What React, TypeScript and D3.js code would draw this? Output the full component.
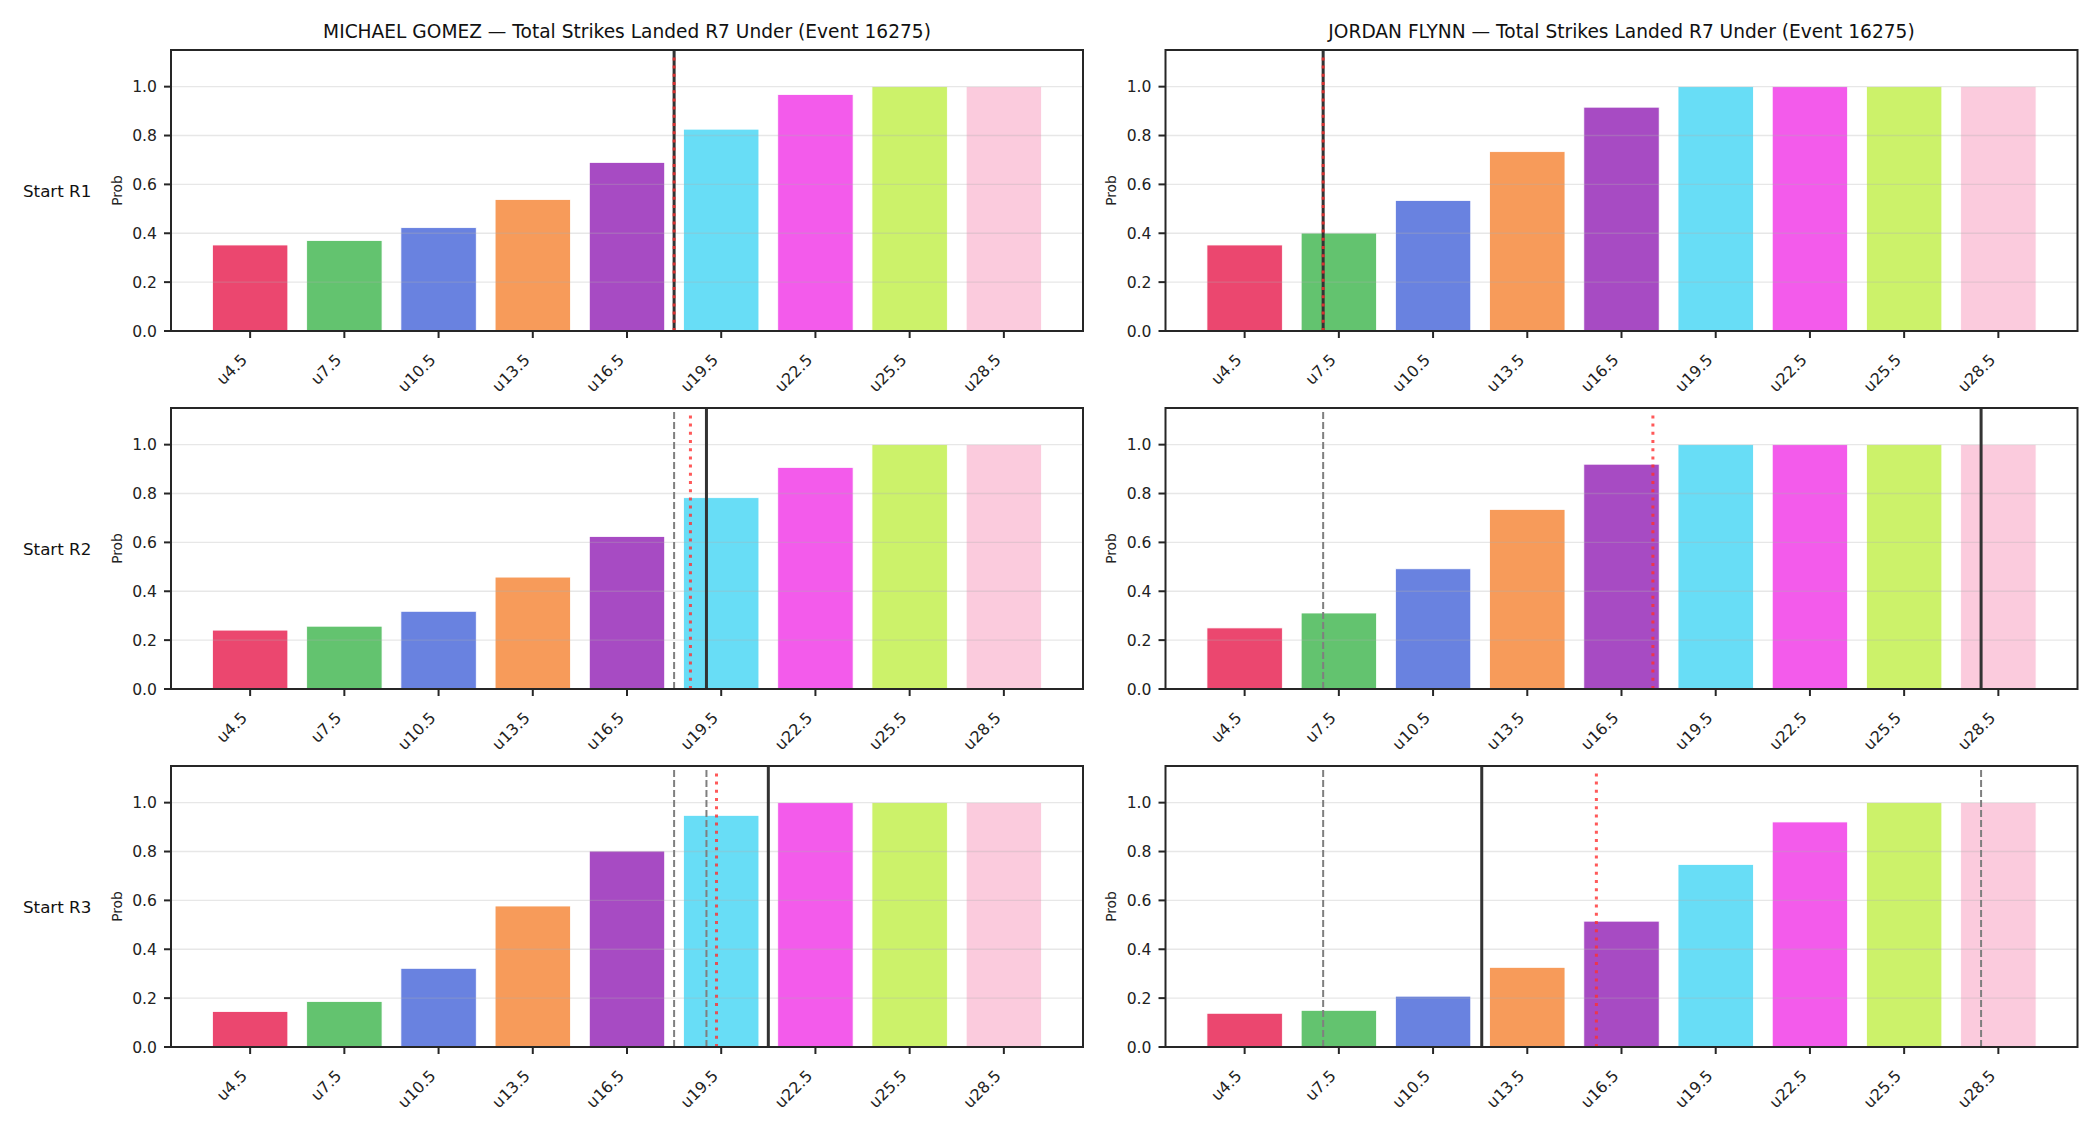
import React, { useEffect } from 'react';
import * as d3 from 'd3';

const lineLabels = ['u4.5', 'u7.5', 'u10.5', 'u13.5', 'u16.5', 'u19.5', 'u22.5', 'u25.5', 'u28.5'];
const lineValues = [4.5, 7.5, 10.5, 13.5, 16.5, 19.5, 22.5, 25.5, 28.5];
const barColors = ['#e6194B', '#3cb44b', '#4363d8', '#f58231', '#911eb4', '#42d4f4', '#f032e6', '#bfef45', '#fabed4'];

const fighters = ['MICHAEL GOMEZ', 'JORDAN FLYNN'];
const rowLabels = ['Start R1', 'Start R2', 'Start R3'];

// P(under) per line, one array per fighter/start round
const gomezR1 = [0.352, 0.370, 0.423, 0.538, 0.690, 0.826, 0.968, 1.0, 1.0];
const gomezR2 = [0.241, 0.257, 0.318, 0.458, 0.624, 0.783, 0.907, 1.0, 1.0];
const gomezR3 = [0.145, 0.186, 0.322, 0.577, 0.802, 0.948, 1.0, 1.0, 1.0];
const flynnR1 = [0.352, 0.401, 0.534, 0.734, 0.916, 1.0, 1.0, 1.0, 1.0];
const flynnR2 = [0.250, 0.311, 0.492, 0.735, 0.920, 1.0, 1.0, 1.0, 1.0];
const flynnR3 = [0.138, 0.150, 0.208, 0.326, 0.515, 0.747, 0.921, 1.0, 1.0];

// projected strikes (solid) and median (dotted) per start round
const gomezProj = [18.0, 19.03, 21.0];
const gomezMedian = [18.0, 18.52, 19.35];
const flynnProj = [7.0, 27.95, 12.05];
const flynnMedian = [7.0, 17.5, 15.7];

const probs = [
  [gomezR1, gomezR2, gomezR3],
  [flynnR1, flynnR2, flynnR3],
];
const projs = [gomezProj, flynnProj];
const medians = [gomezMedian, flynnMedian];

const yTicks = [0, 0.2, 0.4, 0.6, 0.8, 1.0];

const W = 2100;
const H = 1125;
const colLeft = [171, 1165.5];
const axW = 912;
const rowTop = [50, 408, 766];
const axH = 281;
const font = 'DejaVu Sans, sans-serif';

const Panel = ({ fi, ri }: { fi: number; ri: number }) => {
  const x0 = colLeft[fi];
  const y0 = rowTop[ri];
  const data = probs[fi][ri];
  const x = d3.scaleLinear().domain([-0.84, 8.84]).range([x0, x0 + axW]);
  const y = d3.scaleLinear().domain([0, 1.15]).range([y0 + axH, y0]);
  const toIdx = d3.scaleLinear().domain([lineValues[0], lineValues[8]]).range([0, 8]);
  const bw = x(0.8) - x(0);
  const prev = projs[fi].slice(0, ri);
  const bottom = y(0);

  return (
    <g>
      {data.map((v, i) => (
        <rect key={i} x={x(i) - bw / 2} y={y(v)} width={bw} height={bottom - y(v)}
          fill={barColors[i]} fillOpacity={0.8} stroke="#fff" strokeWidth={0.8} />
      ))}
      {yTicks.slice(1).map(t => (
        <line key={t} x1={x0} x2={x0 + axW} y1={y(t)} y2={y(t)} stroke="#b0b0b0" strokeOpacity={0.3} strokeWidth={1.4} />
      ))}
      {prev.map((p, k) => (
        <line key={k} x1={x(toIdx(p))} x2={x(toIdx(p))} y1={bottom} y2={y0}
          stroke="#7f7f7f" strokeWidth={2} strokeDasharray="7,3" />
      ))}
      <line x1={x(toIdx(projs[fi][ri]))} x2={x(toIdx(projs[fi][ri]))} y1={bottom} y2={y0}
        stroke="#333" strokeWidth={3} />
      <line x1={x(toIdx(medians[fi][ri]))} x2={x(toIdx(medians[fi][ri]))} y1={bottom} y2={y(1.13)}
        stroke="#ff3030" strokeOpacity={0.8} strokeWidth={3} strokeDasharray="3,5.2" />
      <rect x={x0} y={y0} width={axW} height={axH} fill="none" stroke="#262626" strokeWidth={2} />
      {yTicks.map(t => (
        <g key={t}>
          <line x1={x0 - 7} x2={x0} y1={y(t)} y2={y(t)} stroke="#262626" strokeWidth={2} />
          <text x={x0 - 14} y={y(t)} dy="0.36em" textAnchor="end" fontSize={15.6} fontFamily={font} fill="#222">
            {t.toFixed(1)}
          </text>
        </g>
      ))}
      {lineLabels.map((l, i) => (
        <g key={l}>
          <line x1={x(i)} x2={x(i)} y1={bottom} y2={bottom + 7} stroke="#262626" strokeWidth={2} />
          <text transform={`translate(${x(i) - 2},${bottom + 30}) rotate(-45)`} textAnchor="end"
            fontSize={15.8} fontFamily={font} fill="#222">{l}</text>
        </g>
      ))}
      <text transform={`translate(${x0 - 54},${y0 + axH / 2}) rotate(-90)`} textAnchor="middle" dy="0.35em"
        fontSize={13.8} fontFamily={font} fill="#222">Prob</text>
      {ri === 0 && (
        <text x={x0 + axW / 2} y={y0 - 12} textAnchor="middle" fontSize={18.6} fontFamily={font} fill="#111">
          {`${fighters[fi]} — Total Strikes Landed R7 Under (Event 16275)`}
        </text>
      )}
      {fi === 0 && (
        <text x={23} y={y0 + axH / 2} dy="0.36em" fontSize={16.7} fontFamily={font} fill="#111">
          {rowLabels[ri]}
        </text>
      )}
    </g>
  );
};

const App = () => {
  useEffect(() => {
    document.body.style.margin = '0';
  }, []);
  return (
    <svg width={W} height={H} style={{ display: 'block', background: '#fff' }}>
      <rect width={W} height={H} fill="#fff" />
      {[0, 1].map(fi => [0, 1, 2].map(ri => <Panel key={`${fi}-${ri}`} fi={fi} ri={ri} />))}
    </svg>
  );
};

export default App;
